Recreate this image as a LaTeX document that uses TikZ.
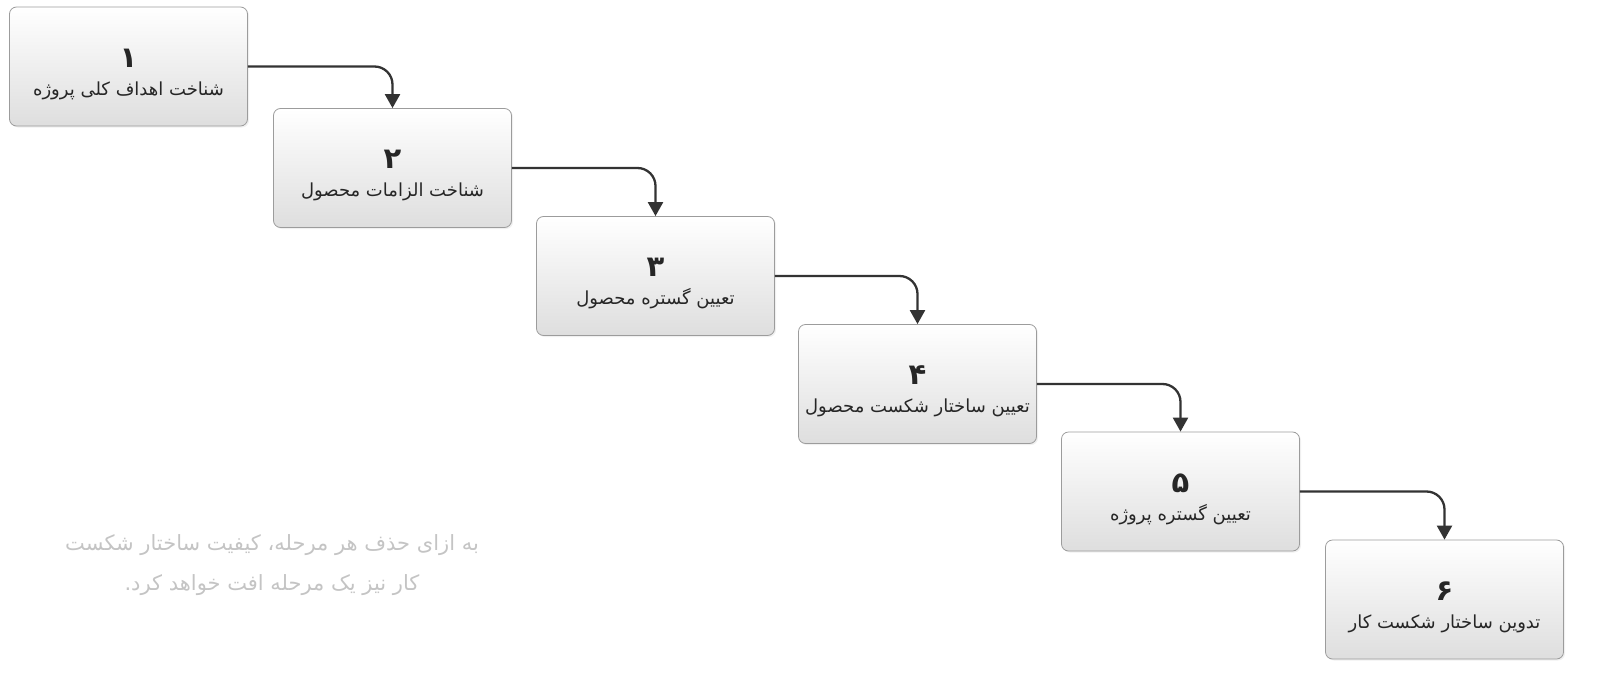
\documentclass[tikz,border=0pt]{standalone}
\usepackage{fontspec}
\usetikzlibrary{arrows.meta, shadows}

\newfontfamily\arabicfont[Script=Arabic]{DejaVu Sans}
\TeXXeTstate=1
\newcommand{\fa}[1]{\beginR #1\endR}
\newcommand{\stepno}[1]{{\rule{0pt}{34pt}\fontsize{29}{30}\selectfont\bfseries\fa{#1}}}

\definecolor{boxline}{HTML}{9C9C9C}
\definecolor{boxbot}{HTML}{DEDEDE}
\definecolor{linkgray}{HTML}{333333}
\definecolor{notegray}{HTML}{C4C4C4}

\begin{document}
\begin{tikzpicture}[x=1pt, y=-1pt,
    stepbox/.style={draw=boxline, line width=0.8pt, rounded corners=7pt,
        top color=white, bottom color=boxbot,
        drop shadow={opacity=0.12, shadow xshift=1.5pt, shadow yshift=-1.5pt},
        minimum width=238pt, minimum height=119pt, align=center,
        font=\arabicfont\fontsize{18}{22}\selectfont, text=black!85},
    link/.style={draw=linkgray, line width=2.3pt, rounded corners=18pt,
        -{Triangle[length=14pt, width=15pt]}}]
    \useasboundingbox (0,0) rectangle (1612,680);

    % steps
    \node[stepbox] (s1) at (128.5,66.5)  {\stepno{۱}\\[6pt]\fa{شناخت اهداف کلی پروژه}};
    \node[stepbox] (s2) at (392.5,168)   {\stepno{۲}\\[6pt]\fa{شناخت الزامات محصول}};
    \node[stepbox] (s3) at (655.5,276)   {\stepno{۳}\\[6pt]\fa{تعیین گستره محصول}};
    \node[stepbox] (s4) at (917.5,384)   {\stepno{۴}\\[6pt]\fa{تعیین ساختار شکست محصول}};
    \node[stepbox] (s5) at (1180.5,491.5){\stepno{۵}\\[6pt]\fa{تعیین گستره پروژه}};
    \node[stepbox] (s6) at (1444.5,599.5){\stepno{۶}\\[6pt]\fa{تدوین ساختار شکست کار}};

    \foreach \i [evaluate=\i as \j using int(\i+1)] in {1,...,5} {
        \draw[link] (s\i.east) -| (s\j.north);
    }

    % note
    \node[align=center, text=notegray, font=\arabicfont\fontsize{21}{40}\selectfont] (note) at (272,565)
        {\fa{به ازای حذف هر مرحله، کیفیت ساختار شکست}\\\fa{کار نیز یک مرحله افت خواهد کرد.}};
\end{tikzpicture}
\end{document}
